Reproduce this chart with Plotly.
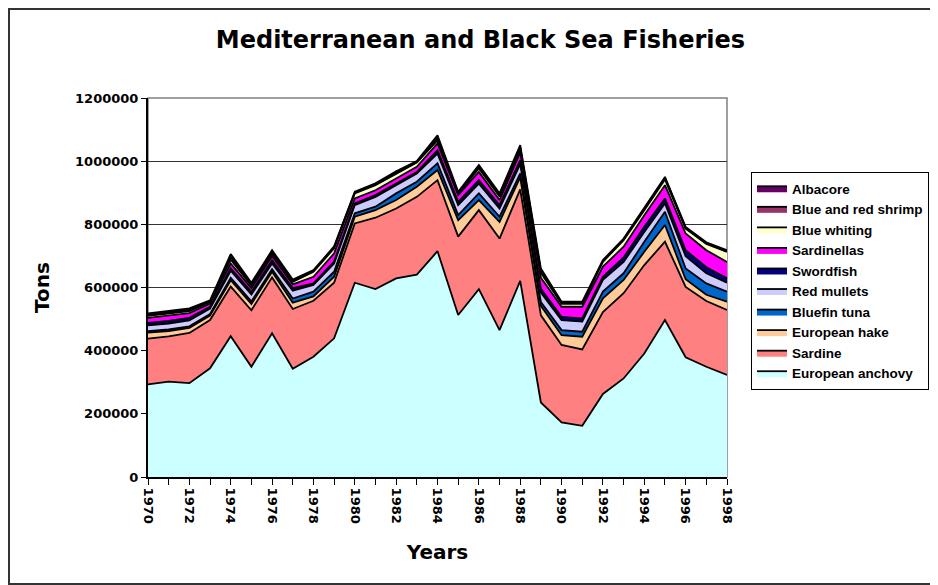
import plotly.graph_objects as go

years = list(range(1970, 1999))

european_anchovy = [293, 302, 297, 344, 446, 349, 455, 343, 381, 439,
                    615, 595, 629, 641, 715, 513, 595, 465, 621, 236,
                    173, 162, 263, 312, 391, 497, 379, 349, 323]
sardine = [145, 143, 159, 153, 157, 179, 177, 189, 177, 176,
           188, 226, 221, 246, 225, 248, 250, 290, 290, 276,
           245, 242, 259, 270, 280, 248, 223, 208, 206]
european_hake = [19, 17, 16, 14, 20, 20, 18, 20, 14, 19,
                 21, 24, 27, 32, 32, 52, 32, 53, 38, 30,
                 31, 40, 44, 42, 42, 53, 24, 20, 26]
bluefin_tuna = [5, 5, 5, 5, 8, 8, 8, 13, 15, 16,
                11, 11, 21, 16, 21, 16, 21, 16, 12, 12,
                16, 16, 21, 21, 32, 42, 34, 36, 32]
red_mullets = [18, 19, 19, 17, 22, 22, 18, 25, 21, 26,
               26, 31, 26, 26, 31, 32, 31, 26, 30, 30,
               32, 32, 37, 36, 31, 26, 39, 32, 28]
swordfish = [8, 8, 8, 6, 8, 8, 10, 8, 5, 6,
             5, 6, 5, 5, 11, 10, 11, 11, 12, 12,
             10, 10, 10, 14, 16, 16, 19, 19, 14]
sardinellas = [16, 17, 15, 10, 15, 12, 14, 12, 21, 26,
               16, 15, 16, 16, 21, 22, 26, 16, 25, 35,
               32, 37, 32, 34, 37, 42, 53, 54, 52]
blue_whiting = [6, 6, 6, 5, 12, 8, 8, 8, 16, 16,
                16, 16, 16, 14, 10, 4, 11, 11, 10, 15,
                9, 9, 15, 21, 16, 18, 15, 20, 32]
blue_red_shrimp = [3, 4, 4, 2, 8, 4, 5, 3, 2, 3,
                   2, 3, 3, 2, 7, 3, 5, 5, 6, 6,
                   3, 3, 3, 2, 4, 4, 3, 2, 2]
albacore = [5, 5, 5, 3, 10, 5, 5, 4, 3, 3,
            3, 3, 4, 2, 9, 3, 6, 5, 7, 8,
            4, 4, 3, 3, 4, 4, 3, 3, 3]

series = [
    ("European anchovy", european_anchovy, "#CCFFFF"),
    ("Sardine", sardine, "#FF8080"),
    ("European hake", european_hake, "#FFCC99"),
    ("Bluefin tuna", bluefin_tuna, "#0066CC"),
    ("Red mullets", red_mullets, "#CCCCFF"),
    ("Swordfish", swordfish, "#000080"),
    ("Sardinellas", sardinellas, "#FF00FF"),
    ("Blue whiting", blue_whiting, "#FFFFCC"),
    ("Blue and red shrimp", blue_red_shrimp, "#993366"),
    ("Albacore", albacore, "#660066"),
]

fig = go.Figure()
for name, vals, col in series:
    fig.add_trace(go.Scatter(
        x=years, y=[v * 1000 for v in vals], name=name,
        mode="lines", stackgroup="one",
        line=dict(color="black", width=1.8),
        fillcolor=col,
    ))

title_font = "DejaVu Sans, Verdana, sans-serif"
legend_font = "Liberation Sans, Arial, sans-serif"

W, H = 930, 577
L, T, R, B = 140, 90, 211, 108
PW, PH = W - L - R, H - T - B

fig.update_layout(
    width=W, height=H,
    margin=dict(l=L, r=R, t=T, b=B, autoexpand=False),
    paper_bgcolor="white", plot_bgcolor="white",
    title=dict(text="Mediterranean and Black Sea Fisheries",
               x=0.508, xanchor="center", y=1 - 32 / H, yanchor="middle",
               font=dict(family=title_font, size=24, color="black", weight="bold")),
    font=dict(family=title_font, color="black"),
    showlegend=True,
    legend=dict(x=(743 - L) / PW, y=(T + PH - 164) / PH, xanchor="left", yanchor="top",
                traceorder="reversed",
                bordercolor="black", borderwidth=1, bgcolor="white",
                font=dict(family=legend_font, size=13.5, color="black", weight="bold"),
                itemwidth=30, tracegroupgap=0),
    xaxis=dict(
        range=[1970, 1998], tickmode="array",
        tickvals=list(range(1970, 1999, 2)),
        ticktext=[str(y) for y in range(1970, 1999, 2)],
        tickangle=90, ticks="outside", ticklen=6, tickcolor="black",
        tickfont=dict(family=title_font, size=13, color="black", weight="bold"),
        minor=dict(dtick=1, tick0=1970, ticks="outside", ticklen=6, tickcolor="black", showgrid=False),
        showgrid=False, showline=True, linecolor="black", linewidth=2,
        zeroline=False,
        title=dict(text="Years", font=dict(family=title_font, size=20, color="black", weight="bold"), standoff=22),
    ),
    yaxis=dict(
        range=[0, 1200000], tickmode="array",
        tickvals=list(range(0, 1200001, 200000)),
        ticktext=[str(v) for v in range(0, 1200001, 200000)],
        ticks="outside", ticklen=5, tickcolor="black",
        tickfont=dict(family=title_font, size=13, color="black", weight="bold"),
        showgrid=True, gridcolor="#333333", gridwidth=1,
        showline=True, linecolor="black", linewidth=2,
        zeroline=False,
        title=dict(text="Tons", font=dict(family=title_font, size=20, color="black", weight="bold"), standoff=20),
    ),
)

# plot-area border (gray) and outer chart border
fig.add_shape(type="rect", xref="paper", yref="paper", x0=0, y0=0, x1=1, y1=1,
              line=dict(color="#808080", width=1.5), layer="below")
fig.add_shape(type="rect", xref="paper", yref="paper",
              x0=-(L - 1) / PW, y0=-(B - 1) / PH, x1=(W - L - 1) / PW, y1=(T + PH - 1) / PH,
              line=dict(color="#333333", width=2), layer="below")

fig.write_html("out.html")
